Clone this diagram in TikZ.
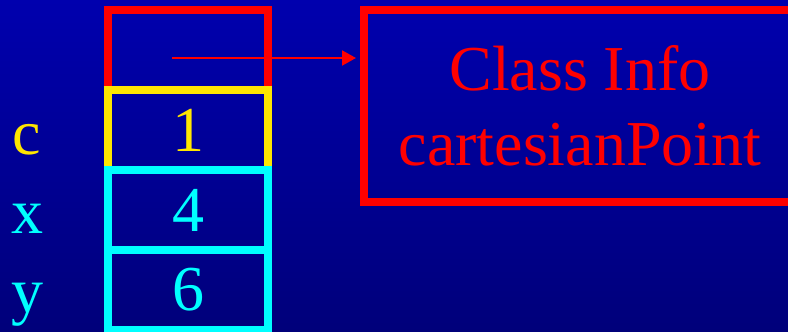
\documentclass[tikz,border=0pt]{standalone}
\usepackage{fontspec}
\setmainfont{Liberation Serif}
\usetikzlibrary{arrows.meta}

\definecolor{slidetop}{RGB}{0,0,174}
\definecolor{slidebot}{RGB}{0,0,122}
\definecolor{fieldyellow}{RGB}{255,230,0}
\definecolor{fieldcyan}{RGB}{0,255,255}

\begin{document}
\begin{tikzpicture}[x=1pt,y=-1pt]
\tikzstyle{every node}+=[inner sep=0pt]
\tikzstyle{cell}=[draw, line width=8pt, minimum width=160pt, minimum height=80pt, font=\fontsize{64}{75}\selectfont]
\tikzstyle{lbl}=[anchor=base, font=\fontsize{64}{75}\selectfont]
\useasboundingbox (0,0) rectangle (788,332);
\clip (0,0) rectangle (788,332);
\shade [top color=slidetop, bottom color=slidebot] (0,0) rectangle (788,332);
% object record
\node [cell, red] (hdr) at (188,50) {};
\node [cell, fieldyellow] (cbox) at (188,130) {1};
\node [cell, fieldcyan] (xbox) at (188,210) {4};
\node [cell, fieldcyan] (ybox) at (188,290) {6};
\node [lbl, fieldyellow] (clbl) at (27,154) {c};
\node [lbl, fieldcyan] (xlbl) at (28,233) {x};
\node [lbl, fieldcyan] (ylbl) at (28,312) {y};
% class descriptor
\node [cell, red, minimum width=432pt, minimum height=192pt, align=center] (info) at (580,106) {Class Info\\cartesianPoint};
\coordinate (ptr) at (172,58);
\draw [red, line width=2pt, -{Triangle[length=14pt,width=15pt]}, shorten >=4pt] (ptr) -- (ptr -| info.west);
\end{tikzpicture}
\end{document}
